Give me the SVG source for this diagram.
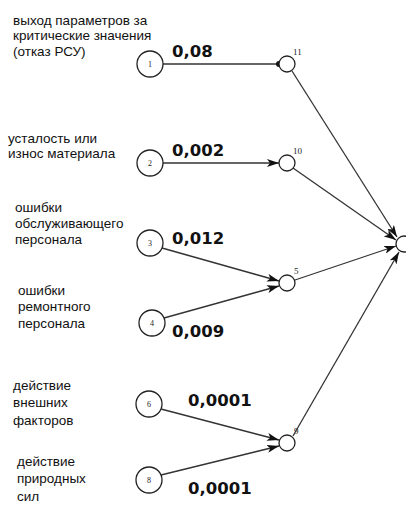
<svg xmlns="http://www.w3.org/2000/svg" width="406" height="505" viewBox="0 0 406 505">
<style>
.lbl{font-family:"Liberation Sans",Arial,sans-serif;font-size:13.5px;fill:#111}
.w{font-family:"DejaVu Sans",Verdana,sans-serif;font-weight:bold;font-size:16.5px;fill:#111}
.n{font-family:"Liberation Serif",serif;font-size:8px;fill:#222;text-anchor:middle}
.s{font-family:"Liberation Serif",serif;font-size:9px;fill:#222}
.c{fill:#fff;stroke:#222;stroke-width:1.3}
.e{fill:none;stroke:#333;stroke-width:1.3}
</style>
<defs>
<marker id="ar" viewBox="0 0 12 8" refX="12" refY="4" markerWidth="12" markerHeight="8" markerUnits="userSpaceOnUse" orient="auto">
<path d="M0,0 L12,4 L0,8 L3,4 Z" fill="#111"/>
</marker>
</defs>
<g id="connectors">
<line class="e" x1="163" y1="64" x2="279" y2="64"/>
<circle cx="279" cy="64" r="3" fill="#111"/>
<line class="e" x1="292" y1="71" x2="397" y2="237" marker-end="url(#ar)"/>
<line class="e" x1="163" y1="163" x2="279" y2="163" marker-end="url(#ar)"/>
<line class="e" x1="293" y1="168" x2="396" y2="240" marker-end="url(#ar)"/>
<line class="e" x1="162" y1="248" x2="279" y2="281" marker-end="url(#ar)"/>
<line class="e" x1="164" y1="318" x2="279" y2="286" marker-end="url(#ar)"/>
<line class="e" x1="295" y1="280" x2="396" y2="246" marker-end="url(#ar)"/>
<line class="e" x1="161" y1="409" x2="279" y2="440" marker-end="url(#ar)"/>
<line class="e" x1="161" y1="475" x2="279" y2="446" marker-end="url(#ar)"/>
<line class="e" x1="293" y1="436" x2="399" y2="252" marker-end="url(#ar)"/>
</g>
<g id="node1">
<text class="lbl" x="13" y="25">выход параметров за</text>
<text class="lbl" x="13" y="40">критические значения</text>
<text class="lbl" x="13" y="56">(отказ РСУ)</text>
<circle class="c" cx="150" cy="64" r="13"/>
<text class="n" x="150" y="67">1</text>
<text class="w" x="172" y="57">0,08</text>
</g>
<g id="node2">
<text class="lbl" x="8" y="143">усталость или</text>
<text class="lbl" x="8" y="158">износ материала</text>
<circle class="c" cx="150" cy="163" r="13"/>
<text class="n" x="150" y="166">2</text>
<text class="w" x="172" y="156">0,002</text>
</g>
<g id="node3">
<text class="lbl" x="15" y="212">ошибки</text>
<text class="lbl" x="15" y="228">обслуживающего</text>
<text class="lbl" x="15" y="244">персонала</text>
<circle class="c" cx="150" cy="243" r="13"/>
<text class="n" x="150" y="246">3</text>
<text class="w" x="172" y="244">0,012</text>
</g>
<g id="node4">
<text class="lbl" x="18" y="295">ошибки</text>
<text class="lbl" x="18" y="311">ремонтного</text>
<text class="lbl" x="18" y="328">персонала</text>
<circle class="c" cx="152" cy="323" r="13"/>
<text class="n" x="152" y="326">4</text>
<text class="w" x="172" y="337">0,009</text>
</g>
<g id="node6">
<text class="lbl" x="13" y="390">действие</text>
<text class="lbl" x="13" y="407">внешних</text>
<text class="lbl" x="13" y="425">факторов</text>
<circle class="c" cx="149" cy="404" r="13"/>
<text class="n" x="149" y="407">6</text>
<text class="w" x="188" y="406">0,0001</text>
</g>
<g id="node8">
<text class="lbl" x="17" y="466">действие</text>
<text class="lbl" x="17" y="483">природных</text>
<text class="lbl" x="17" y="501">сил</text>
<circle class="c" cx="149" cy="480" r="13"/>
<text class="n" x="149" y="483">8</text>
<text class="w" x="188" y="494">0,0001</text>
</g>
<g id="node11">
<circle class="c" cx="287" cy="64" r="8"/>
<text class="s" x="293" y="55">11</text>
</g>
<g id="node10">
<circle class="c" cx="287" cy="163" r="8"/>
<text class="s" x="293" y="154">10</text>
</g>
<g id="node5">
<circle class="c" cx="287" cy="283" r="8"/>
<text class="s" x="294" y="274">5</text>
</g>
<g id="node9">
<circle class="c" cx="287" cy="443" r="8"/>
<text class="s" x="294" y="434">9</text>
</g>
<g id="nodeTop">
<circle class="c" cx="404" cy="244" r="8"/>
</g>
</svg>
